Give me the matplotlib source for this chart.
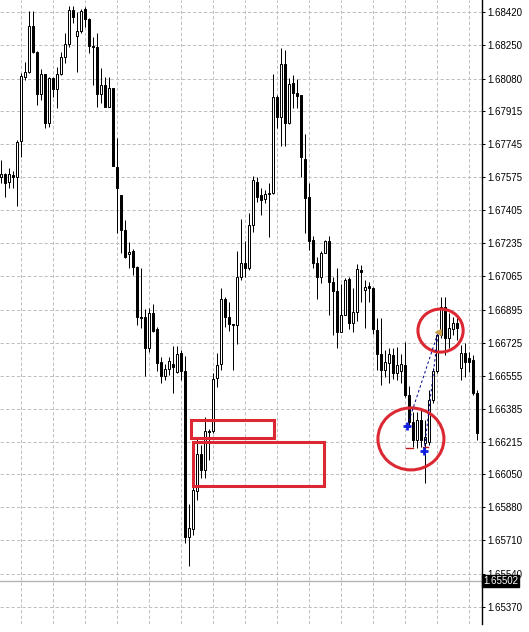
import matplotlib
matplotlib.use("Agg")
import matplotlib.pyplot as plt
from matplotlib.patches import Rectangle, Ellipse
from matplotlib.transforms import blended_transform_factory

# ---------------- data ----------------
opens = [1.67577, 1.67591, 1.67551, 1.67586, 1.67574, 1.67760, 1.68090, 1.68116, 1.68350, 1.68215,
         1.68001, 1.68104, 1.67851, 1.68082, 1.68025, 1.68104, 1.68189, 1.68258, 1.68432, 1.68299,
         1.68324, 1.68436, 1.68386, 1.68249, 1.68241, 1.68001, 1.68047, 1.67936, 1.68030, 1.67628,
         1.67483, 1.67303, 1.67179, 1.67196, 1.67115, 1.66856, 1.66856, 1.66700, 1.66876, 1.66796,
         1.66625, 1.66556, 1.66589, 1.66616, 1.66573, 1.66671, 1.66582, 1.65730, 1.65770, 1.65966,
         1.66153, 1.66072, 1.66274, 1.66272, 1.66543, 1.66614, 1.66948, 1.66859, 1.66820, 1.66816,
         1.67064, 1.67133, 1.67110, 1.67329, 1.67551, 1.67483, 1.67461, 1.67488, 1.67493, 1.67984,
         1.67882, 1.68155, 1.67854, 1.68056, 1.68008, 1.67994, 1.67666, 1.67474, 1.67252, 1.67133,
         1.67064, 1.67187, 1.67249, 1.67038, 1.66991, 1.66782, 1.66867, 1.67052, 1.66825, 1.66881,
         1.67098, 1.66996, 1.67016, 1.67004, 1.66790, 1.66666, 1.66585, 1.66620, 1.66662, 1.66568,
         1.66577, 1.66611, 1.66457, 1.66320, 1.66226, 1.66329, 1.66209, 1.66217, 1.66431, 1.66577,
         1.66765, 1.66910, 1.66748, 1.66794, 1.66828, 1.66594, 1.66674, 1.66645, 1.66637, 1.66466]
highs = [1.67663, 1.67594, 1.67620, 1.67608, 1.67765, 1.68107, 1.68167, 1.68427, 1.68427, 1.68223,
         1.68128, 1.68106, 1.68090, 1.68090, 1.68141, 1.68218, 1.68316, 1.68453, 1.68453, 1.68423,
         1.68436, 1.68449, 1.68389, 1.68295, 1.68313, 1.68133, 1.68087, 1.68090, 1.68032, 1.67774,
         1.67485, 1.67355, 1.67243, 1.67204, 1.67117, 1.67107, 1.66897, 1.66902, 1.66924, 1.66807,
         1.66653, 1.66616, 1.66650, 1.66708, 1.66708, 1.66688, 1.66657, 1.65898, 1.65995, 1.66230,
         1.66200, 1.66346, 1.66281, 1.66568, 1.66671, 1.67004, 1.66961, 1.66936, 1.66822, 1.67196,
         1.67360, 1.67247, 1.67391, 1.67580, 1.67577, 1.67519, 1.67509, 1.67546, 1.68104, 1.67996,
         1.68236, 1.68227, 1.68082, 1.68099, 1.68078, 1.67998, 1.67796, 1.67546, 1.67273, 1.67166,
         1.67197, 1.67252, 1.67273, 1.67064, 1.67107, 1.67025, 1.67059, 1.67064, 1.67007, 1.67127,
         1.67124, 1.67047, 1.67038, 1.67008, 1.66853, 1.66850, 1.66688, 1.66700, 1.66697, 1.66705,
         1.66667, 1.66730, 1.66500, 1.66371, 1.66371, 1.66380, 1.66329, 1.66483, 1.66595, 1.66785,
         1.66961, 1.66961, 1.66878, 1.66859, 1.66852, 1.66713, 1.66722, 1.66675, 1.66662, 1.66483]
lows = [1.67543, 1.67474, 1.67517, 1.67517, 1.67427, 1.67679, 1.68073, 1.68110, 1.68210, 1.67945,
        1.67970, 1.67825, 1.67830, 1.67987, 1.67931, 1.68099, 1.68162, 1.68244, 1.68364, 1.68116,
        1.68313, 1.68346, 1.68210, 1.68047, 1.67936, 1.67953, 1.67934, 1.67933, 1.67631, 1.67287,
        1.67184, 1.67158, 1.67107, 1.67073, 1.66816, 1.66799, 1.66556, 1.66679, 1.66782, 1.66577,
        1.66520, 1.66534, 1.66560, 1.66466, 1.66568, 1.66534, 1.65696, 1.65581, 1.65739, 1.65918,
        1.66030, 1.66030, 1.66124, 1.66262, 1.66497, 1.66585, 1.66804, 1.66787, 1.66585, 1.66717,
        1.67047, 1.67064, 1.67098, 1.67295, 1.67449, 1.67380, 1.67440, 1.67266, 1.67487, 1.67825,
        1.67736, 1.67736, 1.67847, 1.67928, 1.67928, 1.67574, 1.67287, 1.67201, 1.67107, 1.66949,
        1.67030, 1.67184, 1.66867, 1.66765, 1.66697, 1.66779, 1.66865, 1.66795, 1.66779, 1.66838,
        1.66936, 1.66799, 1.66936, 1.66768, 1.66585, 1.66508, 1.66551, 1.66517, 1.66539, 1.66534,
        1.66517, 1.66448, 1.66294, 1.66192, 1.66183, 1.66192, 1.66004, 1.66200, 1.66416, 1.66570,
        1.66749, 1.66662, 1.66698, 1.66765, 1.66739, 1.66534, 1.66551, 1.66575, 1.66457, 1.66223]
closes = [1.67591, 1.67546, 1.67591, 1.67574, 1.67756, 1.68093, 1.68114, 1.68350, 1.68215, 1.68001,
          1.68104, 1.67851, 1.68082, 1.68025, 1.68104, 1.68189, 1.68258, 1.68432, 1.68398, 1.68324,
          1.68427, 1.68386, 1.68249, 1.68241, 1.68001, 1.68047, 1.67936, 1.68030, 1.67633, 1.67517,
          1.67303, 1.67166, 1.67192, 1.67115, 1.66856, 1.66854, 1.66700, 1.66876, 1.66785, 1.66620,
          1.66556, 1.66589, 1.66633, 1.66599, 1.66667, 1.66582, 1.65730, 1.65773, 1.65970, 1.66153,
          1.66072, 1.66274, 1.66269, 1.66538, 1.66611, 1.66948, 1.66859, 1.66820, 1.66816, 1.67061,
          1.67133, 1.67107, 1.67329, 1.67560, 1.67474, 1.67457, 1.67488, 1.67493, 1.67984, 1.67882,
          1.68155, 1.67854, 1.68052, 1.68008, 1.67992, 1.67676, 1.67466, 1.67249, 1.67133, 1.67064,
          1.67187, 1.67249, 1.67038, 1.66992, 1.66782, 1.66867, 1.67047, 1.66825, 1.66881, 1.67103,
          1.67086, 1.67013, 1.67004, 1.66795, 1.66666, 1.66585, 1.66625, 1.66666, 1.66568, 1.66611,
          1.66616, 1.66457, 1.66320, 1.66226, 1.66329, 1.66226, 1.66243, 1.66431, 1.66577, 1.66765,
          1.66910, 1.66748, 1.66799, 1.66828, 1.66799, 1.66671, 1.66628, 1.66628, 1.66466, 1.66261]

price_labels = ["1.68420", "1.68250", "1.68080", "1.67915", "1.67745", "1.67575", "1.67405",
                "1.67235", "1.67065", "1.66895", "1.66725", "1.66555", "1.66385", "1.66215",
                "1.66050", "1.65880", "1.65710", "1.65540", "1.65370"]
current_price = 1.65502

# annotation zones drawn on the chart: (bar from, bar to, price low, price high)
zone_small = (47.3, 68.2, 1.66237, 1.66329)
zone_large = (47.8, 80.7, 1.65991, 1.66215)
# ellipses: (bar center, price center, width in bars, height in price)
circle_top = (109.8, 1.66787, 11.3, 0.00221)
circle_bottom = (102.4, 1.66231, 16.5, 0.00318)
# trade arrows
entry_points = [(101.5, 1.66299), (105.7, 1.66169)]
exit_point = (109.2, 1.66778)
stop_marks = [(101.2, 103.0, 1.66183), (105.4, 106.7, 1.66191)]

# ---------------- figure ----------------
W, H = 529, 632
fig = plt.figure(figsize=(W / 100, H / 100), dpi=100)
fig.patch.set_facecolor("white")
ax = fig.add_axes([0, 8 / H, 481.7 / W, 624 / H])
ax.set_facecolor("white")

n = len(opens)
xs = list(range(n))
ax.set_xlim(-0.333, 120.09)
ax.set_ylim(1.652812, 1.684833)

px = 0.72  # one pixel in points
grid_col = "#c0c0c0"

# grid
for lab in price_labels:
    ax.axhline(float(lab), color=grid_col, lw=px, linestyle=(0, (3.3, 2.2)), zorder=0)
for gx in range(5, n, 8):
    ax.axvline(gx, color=grid_col, lw=px, linestyle=(0, (3.3, 2.2)), zorder=0)

# current price line
ax.axhline(current_price, color="#b4b4b4", lw=1.0, zorder=0.5)

# candles
ax.vlines(xs, lows, highs, color="black", lw=px, zorder=2)
min_h = 0.00004
bottoms = [min(o, c) for o, c in zip(opens, closes)]
heights = [max(abs(c - o), min_h) for o, c in zip(opens, closes)]
faces = ["white" if c >= o else "black" for o, c in zip(opens, closes)]
ax.bar(xs, heights, bottom=bottoms, width=0.5, color=faces, edgecolor="black",
       linewidth=px, zorder=3)

# red zones
red = "#dc2832"
for (x0, x1, y0, y1) in (zone_small, zone_large):
    ax.add_patch(Rectangle((x0, y0), x1 - x0, y1 - y0, fill=False, edgecolor=red,
                           lw=2.2, zorder=5))
for (cx, cy, w, h) in (circle_top, circle_bottom):
    ax.add_patch(Ellipse((cx, cy), w, h, fill=False, edgecolor=red, lw=2.2, zorder=5))

# trade arrows
for (ex, ey) in entry_points:
    ax.plot([ex, exit_point[0]], [ey, exit_point[1]], color="#000090", lw=px,
            linestyle=(0, (2.5, 2.5)), zorder=6)
    ax.plot(ex, ey, marker="+", markersize=6, markeredgewidth=2.0, color="#1020e0", zorder=7)
for (x0, x1, y) in stop_marks:
    ax.plot([x0, x1], [y, y], color="#c01818", lw=1.0, zorder=6)
ax.plot(exit_point[0], exit_point[1], marker="<", markersize=5, color="#c8a050",
        markeredgecolor="#c8a050", zorder=7)

# axes styling
for s in ("left", "top", "bottom"):
    ax.spines[s].set_visible(False)
ax.spines["right"].set_color("black")
ax.spines["right"].set_linewidth(1.0)
ax.set_xticks([])
ax.yaxis.tick_right()
ax.set_yticks([float(l) for l in price_labels])
ax.set_yticklabels(price_labels, fontsize=7, family="Liberation Sans")
ax.tick_params(axis="y", direction="out", length=2.2, width=px, pad=2, colors="black")

# current price tag
tr = blended_transform_factory(ax.transAxes, ax.transData)
ax.text(1.0 + 1.2 / 481.7, current_price - 0.00001, "1.65502", transform=tr, fontsize=7,
        family="Liberation Sans", color="white", va="center", ha="left", clip_on=False,
        zorder=20, bbox=dict(boxstyle="square,pad=0.1", facecolor="black", edgecolor="black"))

fig.savefig("out.png", dpi=100, facecolor="white")
